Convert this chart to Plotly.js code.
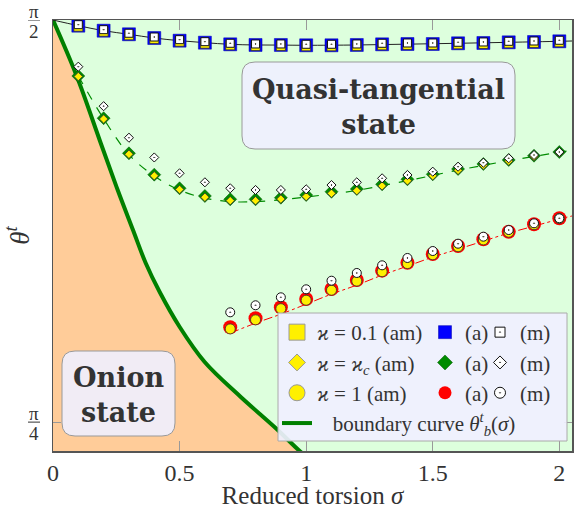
<!DOCTYPE html>
<html><head><meta charset="utf-8">
<script src="https://cdn.plot.ly/plotly-3.0.1.min.js"></script>
<style>html,body{margin:0;padding:0;background:#fff}</style>
</head><body>
<div id="chart" style="width:576px;height:509px"></div>
<script>
const PI = Math.PI;

// ---- data ----
const sigmaGrid = [0.1,0.2,0.3,0.4,0.5,0.6,0.7,0.8,0.9,1.0,1.1,1.2,1.3,1.4,1.5,1.6,1.7,1.8,1.9,2.0];

// kappa = 0.1 (squares)
const sqAm = [1.5577,1.5479,1.5409,1.5336,1.5284,1.5245,1.5213,1.5200,1.5200,1.5194,1.5194,1.5200,1.5213,1.5219,1.5219,1.5233,1.5239,1.5252,1.5258,1.5272];
const sqA  = [1.5597,1.5499,1.5429,1.5356,1.5304,1.5265,1.5233,1.5220,1.5220,1.5214,1.5214,1.5220,1.5233,1.5239,1.5239,1.5253,1.5259,1.5272,1.5278,1.5292];
const sqM  = [1.5617,1.5519,1.5449,1.5376,1.5324,1.5285,1.5253,1.5240,1.5240,1.5234,1.5234,1.5240,1.5253,1.5259,1.5259,1.5273,1.5279,1.5292,1.5298,1.5312];

// kappa = kappa_c (diamonds)
const diAm = [1.4604,1.3775,1.3085,1.2665,1.2398,1.2246,1.2180,1.2180,1.2210,1.2260,1.2322,1.2375,1.2468,1.2567,1.2665,1.2772,1.2872,1.2952,1.3040,1.3115];
const diA  = [1.4614,1.3790,1.3104,1.2687,1.2421,1.2271,1.2206,1.2206,1.2237,1.2290,1.2354,1.2407,1.2499,1.2597,1.2694,1.2798,1.2896,1.2974,1.3058,1.3130];
const diM  = [1.4796,1.4025,1.3409,1.3023,1.2714,1.2538,1.2421,1.2388,1.2388,1.2401,1.2485,1.2538,1.2616,1.2681,1.2745,1.2843,1.2921,1.3007,1.3071,1.3130];

// kappa = 1 (circles)
const sigmaCircles = [0.7,0.8,0.9,1.0,1.1,1.2,1.3,1.4,1.5,1.6,1.7,1.8,1.9,2.0];
const ciAm = [0.9675,0.9852,1.0070,1.0235,1.0430,1.0608,1.0792,1.0950,1.1122,1.1280,1.1413,1.1563,1.1710,1.1830];
const ciA  = [0.9706,0.9882,1.0097,1.0259,1.0454,1.0630,1.0812,1.0968,1.1138,1.1294,1.1425,1.1573,1.1718,1.1835];
const ciM  = [0.9999,1.0136,1.0292,1.0448,1.0616,1.0767,1.0917,1.1060,1.1196,1.1339,1.1476,1.1606,1.1737,1.1835];

// continuous curves
const curveSqSigma = [0,0.1,0.2,0.3,0.4,0.5,0.6,0.7,0.8,0.9,1.0,1.2,1.4,1.6,1.8,2.0,2.05];
const curveSqTheta = [1.5708,1.5597,1.5499,1.5429,1.5356,1.5304,1.5265,1.5233,1.5220,1.5218,1.5214,1.5220,1.5236,1.5253,1.5272,1.5292,1.5298];
const curveDiSigma = [0.1,0.2,0.3,0.4,0.5,0.6,0.7,0.8,0.9,1.0,1.2,1.4,1.6,1.8,2.0,2.05];
const curveDiTheta = [1.4614,1.3780,1.3080,1.2660,1.2385,1.2230,1.2160,1.2160,1.2195,1.2250,1.2380,1.2570,1.2775,1.2960,1.3125,1.3165];
const curveCiSigma = [0.7,0.8,0.9,1.0,1.1,1.2,1.3,1.4,1.5,1.6,1.7,1.8,1.9,2.0,2.05];
const curveCiTheta = [0.9592,0.9787,0.9963,1.0158,1.0354,1.0530,1.0725,1.0901,1.1077,1.1233,1.1389,1.1546,1.1682,1.1819,1.1880];

// boundary curve theta_b^t(sigma)
const boundarySigma = [0,0.0936,0.1884,0.2555,0.3160,0.3661,0.4214,0.5004,0.5991,0.7374,0.8835,0.9743,1.0138];
const boundaryTheta = [1.5708,1.4614,1.3306,1.2388,1.1606,1.0962,1.0395,0.9712,0.9028,0.8364,0.7720,0.7290,0.7134];

// ticks
const xTickVals = [0,0.5,1,1.5,2];
const xTickText = ['0','0.5','1','1.5','2'];
const yTickVals = [PI/4, PI/2];
const yTickNum = ['π','π'];
const yTickDen = ['4','2'];

// ---- layout geometry ----
const W=576, H=509, ML=53, MR=4, MT=20, MB=58;
const PW=W-ML-MR, PH=H-MT-MB;
const px2x = p => (p-ML)/PW;
const py2y = p => (H-MB-p)/PH;
function roundRect(x0,y0,x1,y1,r){
  const a=px2x(x0), b=px2x(x1), c=py2y(y0), d=py2y(y1);
  const rx=r/PW, ry=r/PH;
  return `M${a+rx},${c} L${b-rx},${c} Q${b},${c} ${b},${c-ry} L${b},${d+ry} Q${b},${d} ${b-rx},${d} L${a+rx},${d} Q${a},${d} ${a},${d+ry} L${a},${c-ry} Q${a},${c} ${a+rx},${c} Z`;
}

const YEL='#FFF000', BLUE='#0000FF', GREEN='#008C00', RED='#FF0000', BGREEN='#008000';
const SERIF='Liberation Serif, Times New Roman, serif';

function pts(x,y,symbol,size,color,lc,lw){
  return {type:'scatter',mode:'markers',x:x,y:y,showlegend:false,hoverinfo:'skip',
    marker:{symbol:symbol,size:size,color:color,line:{color:lc,width:lw}}};
}
function leg(name,legend,rank,symbol,size,color,lc,lw){
  return {type:'scatter',mode:'markers',x:[null],y:[null],name:name,legend:legend,legendrank:rank,
    showlegend:true,hoverinfo:'skip',marker:{symbol:symbol,size:size,color:color,line:{color:lc,width:lw}}};
}

const traces = [
  {type:'scatter',mode:'lines',x:boundarySigma,y:boundaryTheta,fill:'tozerox',fillcolor:'#FFCC99',
   line:{width:0,color:'#FFCC99',shape:'spline',smoothing:1},showlegend:false,hoverinfo:'skip'},
  {type:'scatter',mode:'lines',x:boundarySigma,y:boundaryTheta,name:'\u00a0\u00a0\u00a0boundary curve <i>θ</i><sup><i>t</i></sup><sub><i>b</i></sub>(<i>σ</i>)',
   legend:'legend',legendrank:4,line:{width:4,color:BGREEN,shape:'spline',smoothing:1},hoverinfo:'skip'},
  {type:'scatter',mode:'lines',x:curveSqSigma,y:curveSqTheta,line:{width:1,color:'#222',shape:'spline'},showlegend:false,hoverinfo:'skip'},
  {type:'scatter',mode:'lines',x:curveDiSigma,y:curveDiTheta,line:{width:1.2,color:GREEN,dash:'dash',shape:'spline'},showlegend:false,hoverinfo:'skip'},
  {type:'scatter',mode:'lines',x:curveCiSigma,y:curveCiTheta,line:{width:1,color:RED,dash:'dashdot',shape:'spline'},showlegend:false,hoverinfo:'skip'},
  // squares
  pts(sigmaGrid,sqA,'square',13,BLUE,'#0000AA',0.5),
  pts(sigmaGrid,sqAm,'square',9,YEL,'#333',0.8),
  pts(sigmaGrid,sqM,'square-dot',8,'#fff','#111',1),
  // diamonds
  pts(sigmaGrid,diA,'diamond',10,GREEN,'#005500',0.5),
  pts(sigmaGrid,diAm,'diamond',6.5,YEL,'#333',0.8),
  pts(sigmaGrid,diM,'diamond-dot',7,'#fff','#111',1),
  // circles
  pts(sigmaCircles,ciA,'circle',14,RED,RED,0),
  pts(sigmaCircles,ciAm,'circle',10,YEL,'#333',0.8),
  pts(sigmaCircles,ciM,'circle-dot',9,'#fff','#111',1),
  // legend entries
  leg('<i>ϰ</i> = 0.1 (am)','legend',1,'square',16,YEL,'#999',1),
  leg('<i>ϰ</i> = <i>ϰ</i><sub><i>c</i></sub> (am)','legend',2,'diamond',13,YEL,'#999',1),
  leg('<i>ϰ</i> = 1 (am)','legend',3,'circle',16,YEL,'#999',1),
  leg('(a)','legend2',1,'square',13,BLUE,'#0000AA',0.5),
  leg('(a)','legend2',2,'diamond',11.5,GREEN,'#005500',0.5),
  leg('(a)','legend2',3,'circle',13,RED,RED,0),
  leg('(m)','legend3',1,'square-dot',10,'#fff','#111',1),
  leg('(m)','legend3',2,'diamond-dot',10,'#fff','#111',1),
  leg('(m)','legend3',3,'circle-dot',11,'#fff','#111',1)
];

const annotations = [
  {xref:'paper',yref:'paper',x:px2x(378),y:py2y(107),xanchor:'center',yanchor:'middle',
   text:'<b>Quasi-tangential<br>state</b>',showarrow:false,
   font:{family:'DejaVu Serif, serif',size:27,color:'#333'}},
  {xref:'paper',yref:'paper',x:px2x(118),y:py2y(395),xanchor:'center',yanchor:'middle',
   text:'<b>Onion<br>state</b>',showarrow:false,
   font:{family:'DejaVu Serif, serif',size:27,color:'#333'}}
];
const shapes = [
  {type:'path',xref:'paper',yref:'paper',layer:'above',path:roundRect(242,62,515,149,13),
   fillcolor:'rgba(240,240,255,0.9)',line:{color:'#999',width:1}},
  {type:'path',xref:'paper',yref:'paper',layer:'above',path:roundRect(62,351,175,436,13),
   fillcolor:'rgba(240,240,255,0.9)',line:{color:'#999',width:1}},
  {type:'rect',xref:'paper',yref:'paper',layer:'above',x0:px2x(278),x1:px2x(567),y0:py2y(313),y1:py2y(441),
   fillcolor:'rgba(240,240,255,0.92)',line:{color:'#aaa',width:1}}
];
yTickVals.forEach((v,i)=>{
  annotations.push({xref:'paper',yref:'y',x:px2x(34),y:v,xanchor:'center',yanchor:'middle',
    text:yTickNum[i],showarrow:false,yshift:9,font:{family:SERIF,size:19,color:'#333'}});
  annotations.push({xref:'paper',yref:'y',x:px2x(34),y:v,xanchor:'center',yanchor:'middle',
    text:yTickDen[i],showarrow:false,yshift:-11,font:{family:SERIF,size:19,color:'#333'}});
  shapes.push({type:'line',xref:'paper',yref:'y',x0:px2x(28),x1:px2x(40),y0:v,y1:v,line:{color:'#333',width:1}});
});

const legCommon = {bgcolor:'rgba(0,0,0,0)',borderwidth:0,font:{family:SERIF,size:21,color:'#333'},
  tracegroupgap:0,xanchor:'left',yanchor:'top',y:py2y(312),itemclick:false,itemdoubleclick:false};

const layout = {
  width:W,height:H,margin:{l:ML,r:MR,t:MT,b:MB},
  paper_bgcolor:'#fff',plot_bgcolor:'#DDFFDD',
  xaxis:{range:[0,2.05],tickvals:xTickVals,ticktext:xTickText,ticks:'inside',ticklen:10,tickcolor:'#999',
    showgrid:false,zeroline:false,showline:true,linecolor:'#555',linewidth:1.5,mirror:'ticks',
    tickfont:{family:SERIF,size:24,color:'#333'},
    title:{text:'Reduced torsion <i>σ</i>',font:{family:SERIF,size:25,color:'#333'},standoff:8}},
  yaxis:{range:[0.729,PI/2],tickvals:yTickVals,showticklabels:false,ticks:'inside',ticklen:8,tickcolor:'#999',
    showgrid:false,zeroline:false,showline:true,linecolor:'#555',linewidth:1.5,mirror:'ticks',
    title:{text:'<i>θ</i><sup><i>t</i></sup>',font:{family:SERIF,size:27,color:'#333'},standoff:14}},
  legend:Object.assign({},legCommon,{x:px2x(277)}),
  legend2:Object.assign({},legCommon,{x:px2x(425)}),
  legend3:Object.assign({},legCommon,{x:px2x(480)}),
  annotations:annotations,shapes:shapes,showlegend:true
};

Plotly.newPlot('chart',traces,layout,{displayModeBar:false,staticPlot:true});
</script>
</body></html>
